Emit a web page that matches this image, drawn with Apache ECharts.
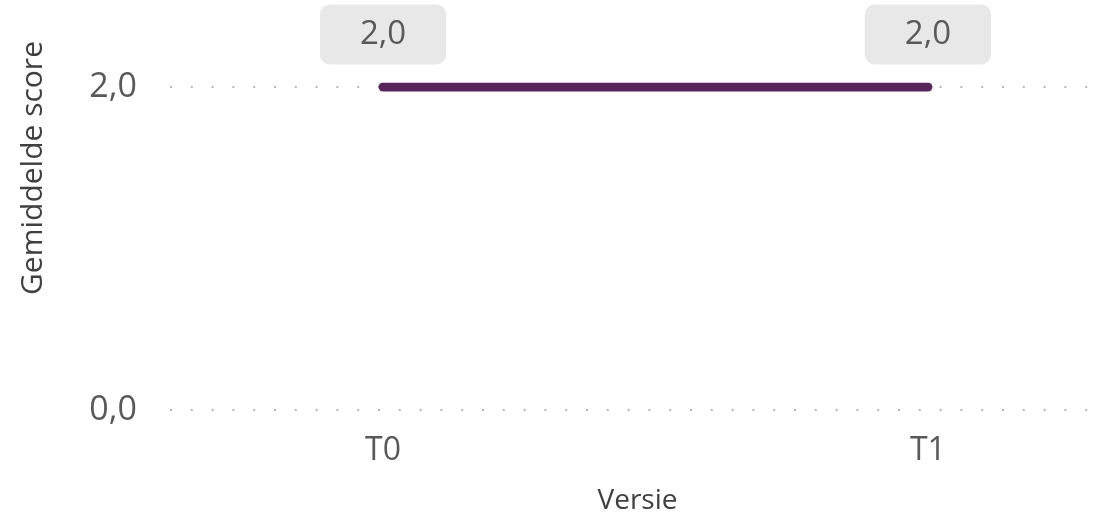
<!DOCTYPE html>
<html>
<head>
<meta charset="utf-8">
<script src="https://cdn.jsdelivr.net/npm/echarts@6/dist/echarts.min.js"></script>
<style>
  html, body { margin: 0; padding: 0; background: #fff; }
  #chart { width: 1117px; height: 513px; }
</style>
</head>
<body>
<div id="chart"></div>
<script>
  // data
  var versies = ['T0', 'T1']
  var scores = [2.0, 2.0]
  var yTicks = [0, 2]

  var fmt = function (v) {
    return v.toFixed(1).replace('.', ',')
  }

  var chart = echarts.init(document.getElementById('chart'))
  chart.setOption({
    backgroundColor: '#fff',
    textStyle: { fontFamily: 'Open Sans' },
    grid: { left: 170, right: 12, top: 87, bottom: 103, outerBoundsMode: 'none', containLabel: false },
    xAxis: {
      type: 'value',
      min: -0.391,
      max: 1.325,
      name: 'Versie',
      nameLocation: 'middle',
      nameGap: 77,
      nameTextStyle: { fontSize: 28, color: '#404040' },
      axisLine: { show: false },
      axisTick: { show: false },
      splitLine: { show: false },
      axisLabel: {
        customValues: versies.map(function (v, i) { return i }),
        fontSize: 32,
        color: '#595959',
        margin: 25,
        formatter: function (v) { return versies[Math.round(v)] }
      }
    },
    yAxis: {
      type: 'value',
      min: yTicks[0],
      max: yTicks[1],
      interval: yTicks[1] - yTicks[0],
      axisLine: { show: false },
      axisTick: { show: false },
      axisLabel: {
        fontSize: 34,
        color: '#595959',
        margin: 33,
        formatter: fmt
      },
      splitLine: {
        lineStyle: { color: '#b8b8b8', width: 2, type: [2, 18.8] }
      }
    },
    graphic: [{
      type: 'text',
      x: 33,
      y: 168,
      rotation: Math.PI / 2,
      style: {
        text: 'Gemiddelde score',
        fontSize: 30,
        fontFamily: 'Open Sans',
        fill: '#404040',
        align: 'center',
        verticalAlign: 'middle'
      }
    }],
    series: [{
      type: 'line',
      data: scores.map(function (s, i) { return [i, s] }),
      symbol: 'circle',
      symbolSize: 1,
      itemStyle: { color: '#58245c' },
      lineStyle: { color: '#58245c', width: 9, cap: 'round' },
      label: {
        show: true,
        position: 'top',
        distance: 22,
        fontSize: 33,
        color: '#595959',
        backgroundColor: '#e8e8e8',
        borderRadius: 10,
        padding: [14, 40, 13, 40],
        formatter: function (p) { return fmt(p.value[1]) }
      }
    }]
  })
</script>
</body>
</html>
